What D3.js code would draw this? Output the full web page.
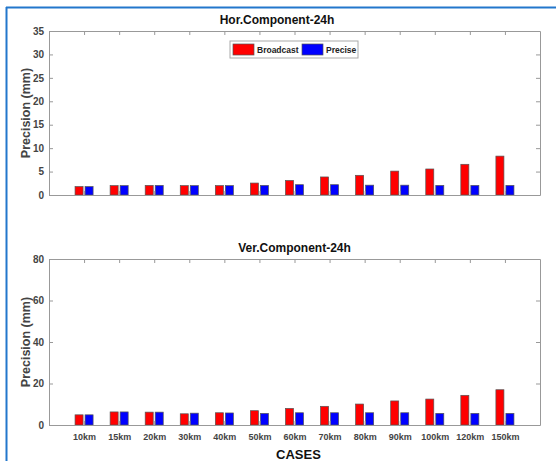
<!DOCTYPE html>
<html>
<head>
<meta charset="utf-8">
<script src="https://cdn.jsdelivr.net/npm/d3@7"></script>
<style>
  body { margin: 0; background: #fff; }
  svg { display: block; font-family: "Liberation Sans", Arial, sans-serif; }
</style>
</head>
<body>
<svg id="chart" width="556" height="461"></svg>
<script>
// 数据：13 个基线长度，两种星历
const cases = ["10km", "15km", "20km", "30km", "40km", "50km", "60km", "70km", "80km", "90km", "100km", "120km", "150km"];
const horBroadcast = [1.8, 2.0, 2.05, 2.0, 2.0, 2.55, 3.1, 3.85, 4.2, 5.1, 5.55, 6.55, 8.3];
const horPrecise   = [1.8, 2.0, 2.05, 2.0, 2.0, 2.05, 2.2, 2.2, 2.1, 2.1, 2.05, 2.05, 2.05];
const verBroadcast = [4.9, 6.3, 6.2, 5.4, 5.9, 6.9, 8.0, 9.0, 10.1, 11.6, 12.5, 14.3, 17.0];
const verPrecise   = [4.9, 6.3, 6.2, 5.7, 5.8, 5.6, 5.9, 5.9, 5.9, 5.9, 5.6, 5.6, 5.6];
const horTicks = [0, 5, 10, 15, 20, 25, 30, 35];
const verTicks = [0, 20, 40, 60, 80];
const seriesNames = ["Broadcast", "Precise"];
const seriesColors = ["#ff0000", "#0000ff"];

const svg = d3.select("#chart");

// 外框（蓝色）
svg.append("line").attr("x1", 6.5).attr("x2", 6.5).attr("y1", 7).attr("y2", 461)
  .attr("stroke", "#2277cc").attr("stroke-width", 2);
svg.append("line").attr("x1", 6).attr("x2", 556).attr("y1", 7.5).attr("y2", 7.5)
  .attr("stroke", "#2277cc").attr("stroke-width", 2);

const left = 49, right = 540;
const x = d3.scaleLinear().domain([0, cases.length + 1]).range([left, right]);
const groupW = 2 / 3.5;          // MATLAB 分组柱宽
const barW = groupW / 2 * 0.8;

function drawPanel(opts) {
  const { top, bottom, ymax, ticks, series, title, titleX, showX } = opts;
  const y = d3.scaleLinear().domain([0, ymax]).range([bottom, top]);
  const g = svg.append("g");

  // 柱子
  series.forEach((vals, si) => {
    const off = (si === 0 ? -1 : 1) * groupW / 4;
    g.append("g").selectAll("rect")
      .data(vals)
      .join("rect")
      .attr("x", (d, i) => x(i + 1 + off - barW / 2))
      .attr("width", x(barW) - x(0))
      .attr("y", d => y(d))
      .attr("height", d => y(0) - y(d))
      .attr("fill", seriesColors[si])
      .attr("stroke", "#555")
      .attr("stroke-width", 0.7);
  });

  // 坐标轴（MATLAB box 样式，刻度朝内）
  const axisColor = "#999";
  const yl = d3.axisLeft(y).tickValues(ticks).tickSizeInner(-4).tickSizeOuter(0).tickPadding(5);
  const yr = d3.axisRight(y).tickValues(ticks).tickSizeInner(-4).tickSizeOuter(0).tickFormat("");
  const xt = d3.axisTop(x).tickValues(d3.range(1, cases.length + 1)).tickSizeInner(-4).tickSizeOuter(0).tickFormat("");
  const xb = d3.axisBottom(x).tickValues(d3.range(1, cases.length + 1)).tickSizeInner(-4).tickSizeOuter(0)
    .tickPadding(9).tickFormat(i => showX ? cases[i - 1] : "");

  const ga = g.append("g").attr("transform", `translate(${left},0)`).call(yl);
  g.append("g").attr("transform", `translate(${right},0)`).call(yr);
  g.append("g").attr("transform", `translate(0,${top})`).call(xt);
  const gb = g.append("g").attr("transform", `translate(0,${bottom})`).call(xb);

  g.selectAll(".domain, .tick line").attr("stroke", axisColor).attr("stroke-width", 1);
  ga.selectAll("text").attr("font-size", 10).attr("font-weight", "bold").attr("fill", "#444")
    .attr("font-family", "Liberation Sans, Arial, sans-serif");
  gb.selectAll("text").attr("font-size", 9).attr("font-weight", "bold").attr("fill", "#444")
    .attr("font-family", "Liberation Sans, Arial, sans-serif");

  // 标题与 Y 轴标签
  g.append("text").attr("x", titleX).attr("y", top - 7)
    .attr("text-anchor", "middle").attr("font-size", 12).attr("font-weight", "bold")
    .attr("fill", "#111").text(title);
  g.append("text")
    .attr("transform", `translate(29.5,${(top + bottom) / 2}) rotate(-90)`)
    .attr("text-anchor", "middle").attr("font-size", 12.5).attr("font-weight", "bold")
    .attr("fill", "#444").text("Precision (mm)");
  return g;
}

drawPanel({ top: 31, bottom: 195, ymax: 35, ticks: horTicks,
  series: [horBroadcast, horPrecise], title: "Hor.Component-24h", titleX: 277, showX: false });
drawPanel({ top: 259, bottom: 425, ymax: 80, ticks: verTicks,
  series: [verBroadcast, verPrecise], title: "Ver.Component-24h", titleX: 294.5, showX: true });

// X 轴标题
svg.append("text").attr("x", 298.5).attr("y", 459).attr("text-anchor", "middle")
  .attr("font-size", 13).attr("font-weight", "bold").attr("fill", "#111").text("CASES");

// 图例
const lg = svg.append("g").attr("transform", "translate(230,41)");
lg.append("rect").attr("width", 128).attr("height", 17)
  .attr("fill", "#fff").attr("stroke", "#aaa").attr("stroke-width", 1);
const legendX = [3, 72];
const legendW = [21, 21];
seriesNames.forEach((name, i) => {
  lg.append("rect").attr("x", legendX[i]).attr("y", 3).attr("width", legendW[i]).attr("height", 11)
    .attr("fill", seriesColors[i]).attr("stroke", "#555").attr("stroke-width", 0.7);
  lg.append("text").attr("x", legendX[i] + legendW[i] + 3).attr("y", 12)
    .attr("font-size", 8.5).attr("font-weight", "bold").attr("fill", "#222").text(name);
});
</script>
</body>
</html>
